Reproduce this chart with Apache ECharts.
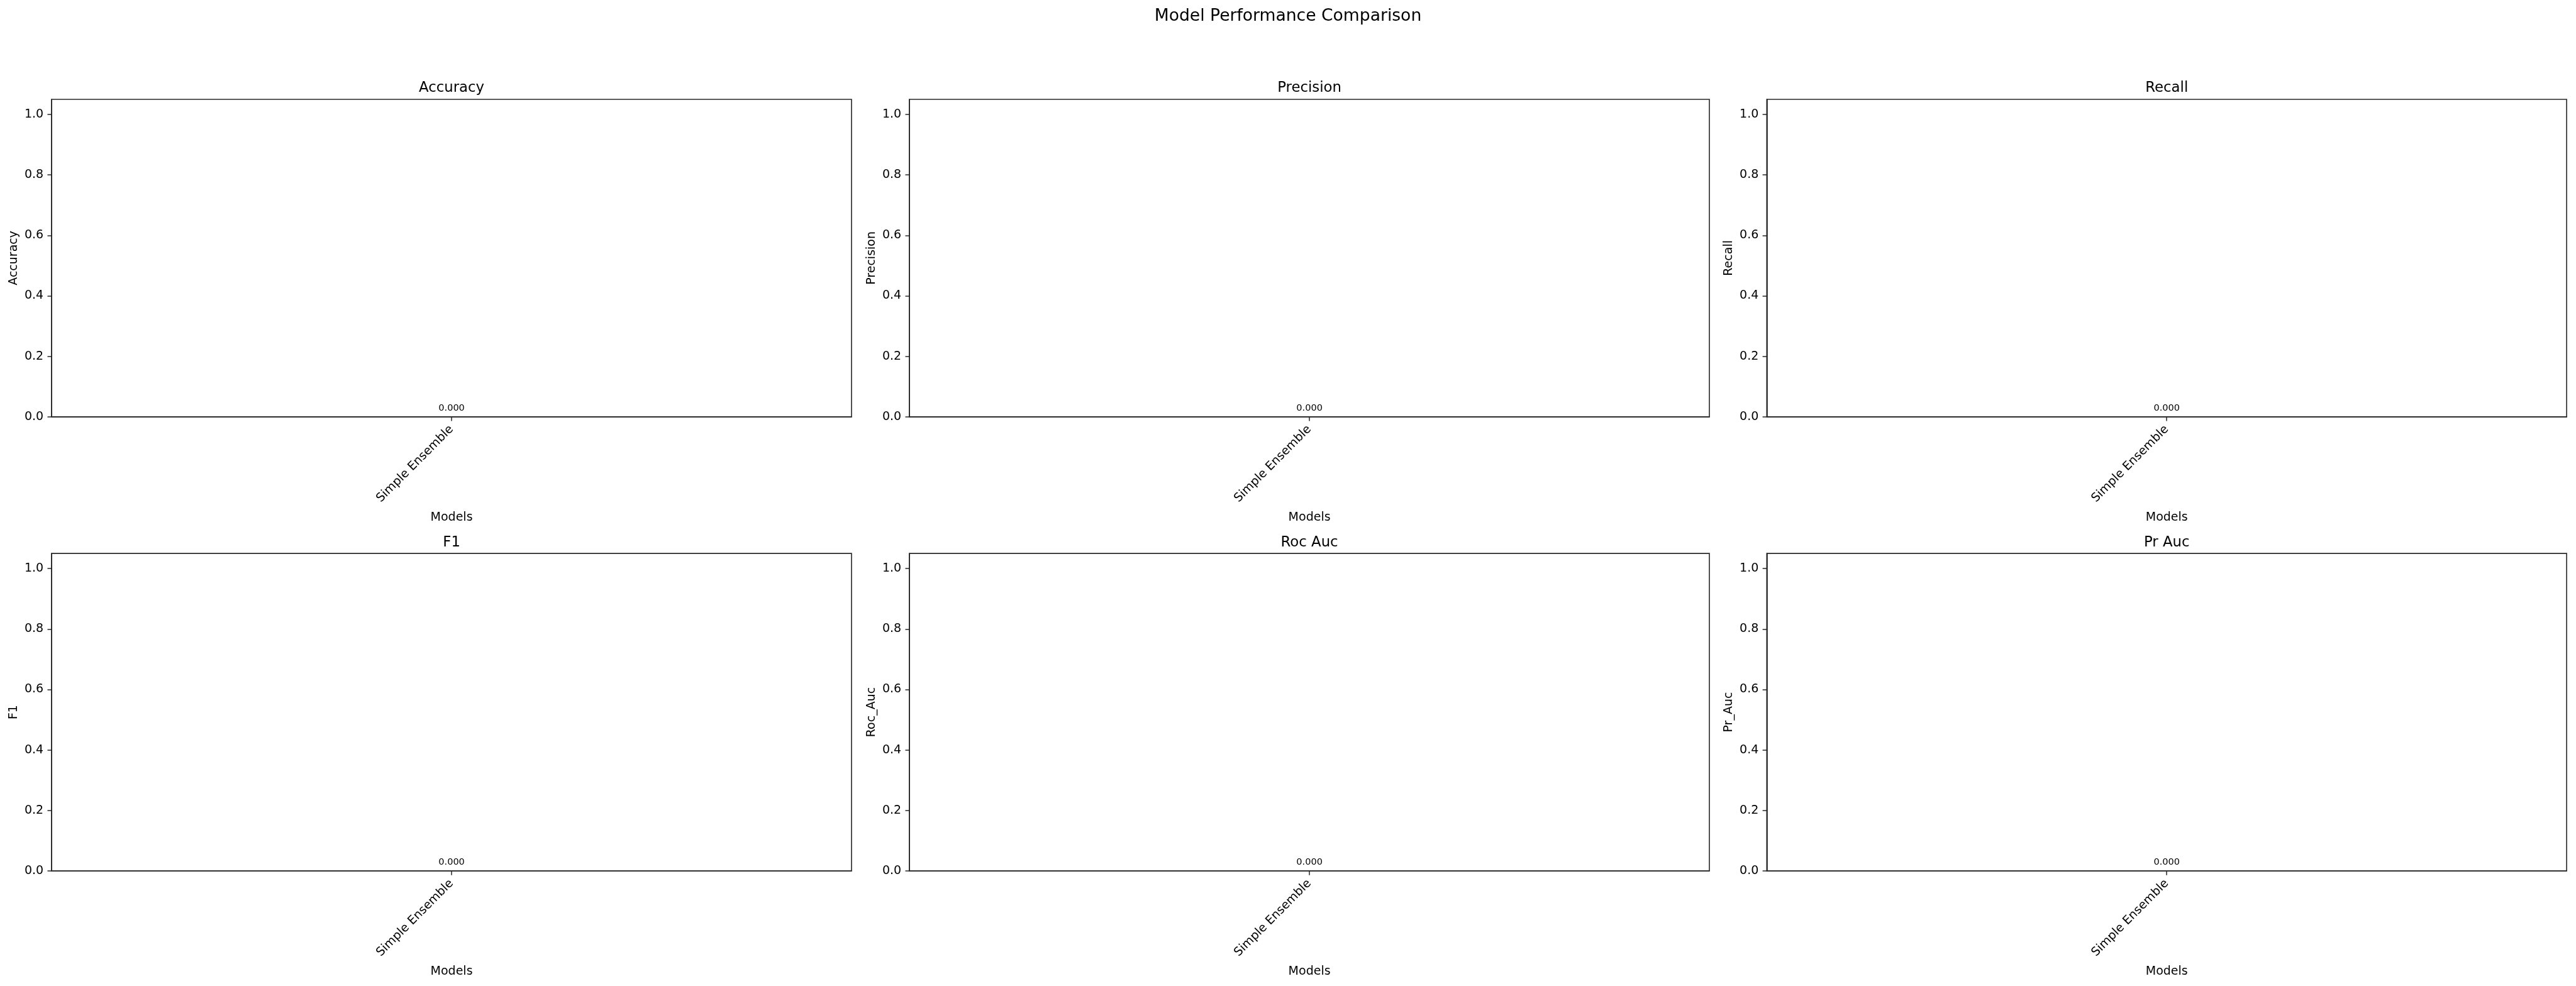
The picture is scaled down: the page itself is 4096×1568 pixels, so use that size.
<!DOCTYPE html>
<html>
<head>
<meta charset="utf-8">
<script src="https://cdn.jsdelivr.net/npm/echarts@6/dist/echarts.min.js"></script>
<style>
html,body{margin:0;padding:0;background:#fff;}
#chart{width:4096px;height:1568px;}
</style>
</head>
<body>
<div id="chart"></div>
<script>
// ---- data ----
const suptitle = 'Model Performance Comparison';
const categories = ['Simple Ensemble'];
const metricTitles = ['Accuracy', 'Precision', 'Recall', 'F1', 'Roc Auc', 'Pr Auc'];
const metricAxisNames = ['Accuracy', 'Precision', 'Recall', 'F1', 'Roc_Auc', 'Pr_Auc'];
const accuracy = [0.0];
const precision = [0.0];
const recall = [0.0];
const f1 = [0.0];
const rocAuc = [0.0];
const prAuc = [0.0];
const yTicks = [0.0, 0.2, 0.4, 0.6, 0.8, 1.0];
const xLabelName = 'Models';

const seriesValues = [accuracy, precision, recall, f1, rocAuc, prAuc];

// ---- layout ----
const S = 0.913;
const colLefts = [90, 1584, 3077].map(v => v * S);
const rowTops = [173, 964].map(v => v * S);
const gw = 1393 * S, gh = 553 * S;
const FONT = 'DejaVu Sans';
const spine = '#262626';

const grids = [], xAxes = [], yAxes = [], series = [], titles = [];
titles.push({
  text: suptitle, left: 'center', top: 13, padding: 0,
  textStyle: {fontFamily: FONT, fontSize: 26.6, fontWeight: 'normal', color: '#000'}
});
for (let i = 0; i < 6; i++) {
  const r = Math.floor(i / 3), c = i % 3;
  const left = colLefts[c], top = rowTops[r];
  grids.push({left: left, top: top, width: gw, height: gh, show: true,
    borderColor: spine, borderWidth: 1.6, backgroundColor: 'transparent', containLabel: false});
  titles.push({
    text: metricTitles[i], left: left + gw / 2, top: top - 29, padding: 0, textAlign: 'center',
    textStyle: {fontFamily: FONT, fontSize: 22.8, fontWeight: 'normal', color: '#000'}
  });
  xAxes.push({
    type: 'category', gridIndex: i, data: categories,
    name: xLabelName, nameLocation: 'middle', nameGap: 151,
    nameTextStyle: {fontFamily: FONT, fontSize: 19, color: '#000'},
    axisLine: {show: true, lineStyle: {color: spine, width: 1.6}},
    axisTick: {show: true, alignWithLabel: true, length: 6.7, lineStyle: {color: spine, width: 1.5}},
    axisLabel: {rotate: 45, margin: 17, fontFamily: FONT, fontSize: 19, color: '#000', interval: 0},
    splitLine: {show: false}
  });
  yAxes.push({
    type: 'value', gridIndex: i, min: 0, max: 1.05,
    name: metricAxisNames[i], nameLocation: 'middle', nameGap: 51, nameRotate: 90,
    nameTextStyle: {fontFamily: FONT, fontSize: 19, color: '#000'},
    axisLine: {show: true, lineStyle: {color: spine, width: 1.6}},
    axisTick: {show: true, length: 6.7, customValues: yTicks, lineStyle: {color: spine, width: 1.5}},
    axisLabel: {customValues: yTicks, margin: 13, fontFamily: FONT, fontSize: 19, color: '#000',
      formatter: v => v.toFixed(1)},
    splitLine: {show: false}
  });
  series.push({
    type: 'bar', xAxisIndex: i, yAxisIndex: i, data: seriesValues[i],
    barWidth: '80%', itemStyle: {color: '#1f77b4'},
    label: {show: true, position: 'top', distance: 6, fontFamily: FONT, fontSize: 14.5, color: '#000',
      formatter: p => p.value.toFixed(3)}
  });
}

const chart = echarts.init(document.getElementById('chart'), null, {renderer: 'canvas'});
chart.setOption({
  backgroundColor: '#fff',
  animation: false,
  title: titles,
  grid: grids,
  xAxis: xAxes,
  yAxis: yAxes,
  series: series
});
</script>
</body>
</html>
